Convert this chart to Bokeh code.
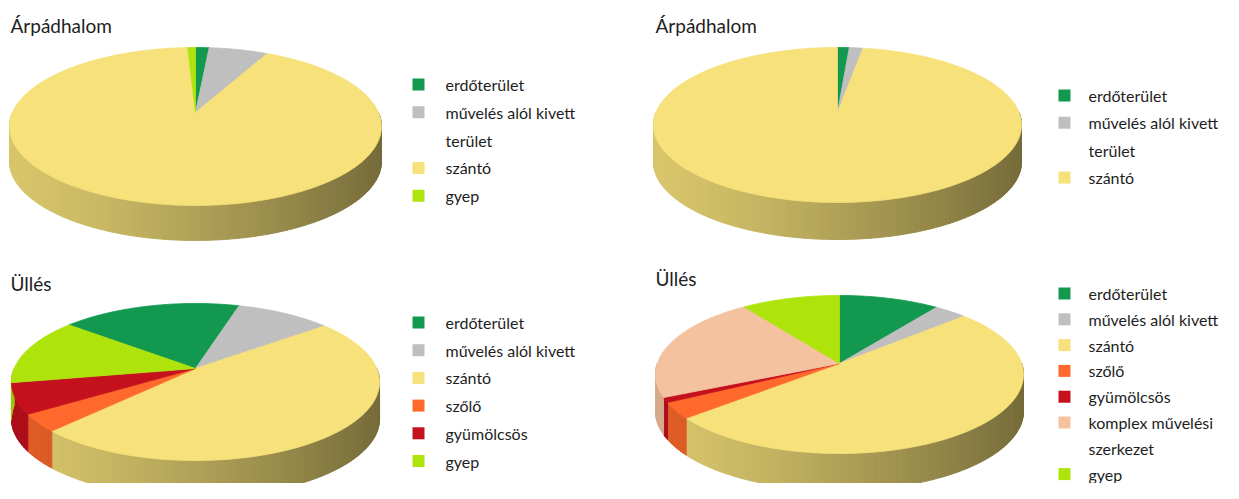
import numpy as np
from bokeh.plotting import figure
from bokeh.models import Range1d, ColumnDataSource
from bokeh.embed import file_html
from bokeh.resources import INLINE
from bokeh.core.properties import value

# ---------------- data ----------------
cat_colors = {
    "erdőterület": "#12994F",
    "művelés alól kivett terület": "#BFBFBF",
    "szántó": "#F6E17A",
    "szőlő": "#FF6A2C",
    "gyümölcsös": "#C5101E",
    "komplex művelési szerkezet": "#F4C29F",
    "gyep": "#AEE40C",
}

titles = ["Árpádhalom", "Árpádhalom", "Üllés", "Üllés"]

arpad1_cats = ["erdőterület", "művelés alól kivett terület", "szántó", "gyep"]
arpad1_vals = [1.4, 6.1, 91.7, 0.8]
arpad1_labels = ["erdőterület", "művelés alól kivett\nterület", "szántó", "gyep"]

arpad2_cats = ["erdőterület", "művelés alól kivett terület", "szántó"]
arpad2_vals = [1.2, 1.4, 97.4]
arpad2_labels = ["erdőterület", "művelés alól kivett\nterület", "szántó"]

ulles1_cats = ["erdőterület", "művelés alól kivett terület", "szántó", "szőlő", "gyümölcsös", "gyep"]
ulles1_vals = [18.6, 9.9, 47.8, 3.6, 6.3, 13.8]
ulles1_labels = ["erdőterület", "művelés alól kivett", "szántó", "szőlő", "gyümölcsös", "gyep"]

ulles2_cats = ["erdőterület", "művelés alól kivett terület", "szántó", "szőlő", "gyümölcsös",
               "komplex művelési szerkezet", "gyep"]
ulles2_vals = [10.1, 3.3, 50.5, 3.3, 1.0, 21.9, 9.9]
ulles2_labels = ["erdőterület", "művelés alól kivett", "szántó", "szőlő", "gyümölcsös",
                 "komplex művelési\nszerkezet", "gyep"]

# ---------------- layout (pixel-like coordinates) ----------------
charts = [
    dict(title=titles[0], cats=arpad1_cats, vals=arpad1_vals, labels=arpad1_labels,
         cx=195, cy=112, a=183, b=76.5, k=0.177, depth=35, start=0.0,
         tx=10, ty=25, lx=418, ltx=445, ly=84, lstep=27.8),
    dict(title=titles[1], cats=arpad2_cats, vals=arpad2_vals, labels=arpad2_labels,
         cx=837, cy=112, a=181.6, b=75.5, k=0.161, depth=37, start=0.0,
         tx=655, ty=25, lx=1064, ltx=1088, ly=95, lstep=27.3),
    dict(title=titles[2], cats=ulles1_cats, vals=ulles1_vals, labels=ulles1_labels,
         cx=195, cy=368, a=181.3, b=76.2, k=0.172, depth=37, start=-50.7,
         tx=10, ty=283, lx=418, ltx=445, ly=322, lstep=27.7),
    dict(title=titles[3], cats=ulles2_cats, vals=ulles2_vals, labels=ulles2_labels,
         cx=839, cy=363, a=182.2, b=77.5, k=0.139, depth=37, start=0.0,
         tx=655, ty=278, lx=1064, ltx=1088, ly=293, lstep=25.8),
]


def shade(hex_color, f):
    h = hex_color.lstrip("#")
    r, g, b = (int(h[i:i + 2], 16) for i in (0, 2, 4))
    return "#%02x%02x%02x" % (int(r * f), int(g * f), int(b * f))


def proj(c, th):
    u, v = np.sin(th), np.cos(th)
    w = 1 + c["k"] * v
    return c["cx"] + c["a"] * u / w, c["cy"] - c["b"] * v / w


W, H = 1223, 483
p = figure(width=W, height=H, output_backend="svg", toolbar_location=None,
           x_range=Range1d(0, W), y_range=Range1d(H, 0),
           min_border=0, outline_line_color=None,
           x_axis_location=None, y_axis_location=None)
p.xgrid.visible = False
p.ygrid.visible = False
p.background_fill_color = "white"

rim_xs, rim_ys, rim_col = [], [], []
top_xs, top_ys, top_col = [], [], []
sq_x, sq_y, sq_col = [], [], []
tx, ty, tt = [], [], []
ttl_x, ttl_y, ttl_t = [], [], []

for c in charts:
    vals = np.array(c["vals"], dtype=float)
    fr = vals / vals.sum()
    ends = np.cumsum(fr) * 2 * np.pi + np.radians(c["start"])
    starts = ends - fr * 2 * np.pi
    A = c["a"] / np.sqrt(1 - c["k"] ** 2)
    for cat, t0, t1 in zip(c["cats"], starts, ends):
        col = cat_colors[cat]
        n = max(2, int(np.degrees(t1 - t0)) + 1)
        th = np.linspace(t0, t1, n)
        X, Y = proj(c, th)
        top_xs.append([c["cx"]] + list(X))
        top_ys.append([c["cy"]] + list(Y))
        top_col.append(col)
        for off in (-2 * np.pi, 0, 2 * np.pi):
            lo = max(t0, np.pi / 2 + off)
            hi = min(t1, 3 * np.pi / 2 + off)
            if hi <= lo:
                continue
            m = max(1, int(np.degrees(hi - lo) / 1.5) + 1)
            edges = np.linspace(lo, hi, m + 1)
            for e0, e1 in zip(edges[:-1], edges[1:]):
                ths = np.linspace(e0, e1, 3)
                x1, y1 = proj(c, ths)
                xs = list(x1) + list(x1[::-1])
                ys = list(y1) + list((y1 + c["depth"])[::-1])
                xm = proj(c, (e0 + e1) / 2)[0]
                t = (xm - (c["cx"] - A)) / (2 * A)
                f = 0.88 - 0.40 * t ** 1.3
                rim_xs.append(xs)
                rim_ys.append(ys)
                rim_col.append(shade(col, f))
    row = 0
    for cat, lab in zip(c["cats"], c["labels"]):
        for j, line in enumerate(lab.split("\n")):
            yy = c["ly"] + row * c["lstep"]
            if j == 0:
                sq_x.append(c["lx"])
                sq_y.append(yy)
                sq_col.append(cat_colors[cat])
            tx.append(c["ltx"])
            ty.append(yy)
            tt.append(line)
            row += 1
    ttl_x.append(c["tx"])
    ttl_y.append(c["ty"])
    ttl_t.append(c["title"])

p.patches("xs", "ys", source=ColumnDataSource(dict(xs=rim_xs, ys=rim_ys, c=rim_col)),
          fill_color="c", line_color="c", line_width=1)
p.patches("xs", "ys", source=ColumnDataSource(dict(xs=top_xs, ys=top_ys, c=top_col)),
          fill_color="c", line_color="c", line_width=0.8)

p.rect(x="x", y="y", width=12, height=12, width_units="screen", height_units="screen",
       source=ColumnDataSource(dict(x=sq_x, y=sq_y, c=sq_col)), fill_color="c", line_color=None)

p.text(x="x", y="y", text="t", source=ColumnDataSource(dict(x=tx, y=ty, t=tt)),
       text_font=value("Lato"), text_font_size="16px", text_color="#1e1e1e",
       text_baseline="middle", text_align="left")

p.text(x="x", y="y", text="t", source=ColumnDataSource(dict(x=ttl_x, y=ttl_y, t=ttl_t)),
       text_font=value("Lato"), text_font_size="19px", text_color="#1e1e1e",
       text_baseline="middle", text_align="left")

open("out.html", "w").write(file_html(p, INLINE))
